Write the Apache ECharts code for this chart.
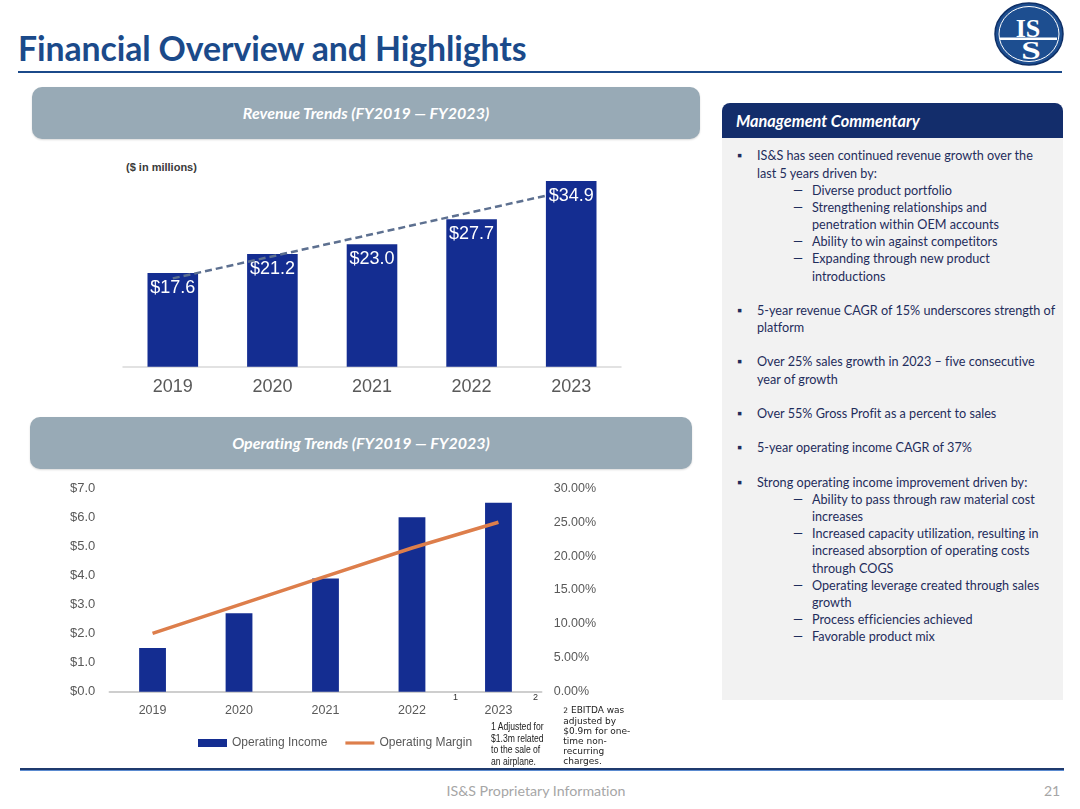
<!DOCTYPE html>
<html>
<head>
<meta charset="utf-8">
<script src="https://cdn.jsdelivr.net/npm/echarts@6/dist/echarts.min.js"></script>
<style>
  body { margin: 0; width: 1080px; height: 809px; background: #fff; position: relative; overflow: hidden; font-family: Lato, "Noto Sans", sans-serif; font-variant-ligatures: none; }
  .abs { position: absolute; }
  #title { left: 18px; top: 29px; font-size: 33.8px; font-weight: 700; color: #1b4a8a; line-height: 38px; white-space: nowrap; letter-spacing: -0.1px; }
  #titleRule { left: 18px; top: 71px; width: 1044px; height: 2px; background: #1b4a8a; }
  .band { background: #98aab6; border-radius: 10px; color: #fff; font-weight: 700; font-style: italic; font-size: 16px; text-align: center; box-shadow: 0 1px 2px rgba(0,0,0,.15); }
  #band1 { left: 32px; top: 87px; width: 668px; height: 52px; line-height: 52px; }
  #band2 { left: 30px; top: 417px; width: 662px; height: 52px; line-height: 52px; }
  #unit { left: 126px; top: 160px; font: bold 11px "Liberation Sans", Arial, sans-serif; color: #3a3a3a; line-height: 14px; }
  #revChart { left: 30px; top: 145px; width: 670px; height: 265px; }
  #opChart { left: 30px; top: 470px; width: 680px; height: 300px; }
  #mgmtHead { left: 722px; top: 103px; width: 341px; height: 35px; background: #132d6b; border-radius: 8px 8px 0 0; color: #fff; font-weight: 700; font-style: italic; font-size: 16.3px; line-height: 35px; }
  #mgmtHead span { margin-left: 14px; }
  #mgmtBody { left: 722px; top: 138px; width: 341px; height: 562px; background: #f2f2f2; }
  #notes { left: 722px; top: 147.4px; width: 341px; color: #1f2d5c; font-size: 12.65px; }
  .nl { position: relative; height: 17.18px; line-height: 17.18px; white-space: nowrap; }
  .nl.b { padding-left: 35px; }
  .nl.s { padding-left: 90px; }
  .nl.b.m::before { content: "\25AA"; position: absolute; left: 15px; font-size: 13px; }
  .nl.s.m::before { content: "\2014"; position: absolute; left: 71px; }
  .sup { font: 9px "Liberation Sans", Arial, sans-serif; color: #333; line-height: 10px; }
  #fn1 { left: 490.7px; top: 721px; font: 10px "Liberation Sans", Arial, sans-serif; line-height: 11.5px; color: #222; transform: scaleX(0.86); transform-origin: left top; white-space: nowrap; }
  #fn2 { left: 563.3px; top: 705px; font: 9px "DejaVu Sans", sans-serif; line-height: 10px; color: #222; white-space: nowrap; }
  #footRule { left: 20px; top: 768px; width: 1044px; height: 2px; background: #1f3a6e; border-bottom: 1.5px solid #5b8bd0; }
  #footText { left: 386px; top: 783px; width: 300px; text-align: center; font-size: 14.2px; color: #a6a6a6; line-height: 16px; }
  #pageNo { left: 1044px; top: 783px; font-size: 14px; color: #a6a6a6; line-height: 16px; }
  #logo { left: 990px; top: 0px; }
</style>
</head>
<body>
<div id="title" class="abs">Financial Overview and Highlights</div>
<div id="titleRule" class="abs"></div>
<svg id="logo" class="abs" width="80" height="70" viewBox="990 0 80 70">
  <ellipse cx="1029" cy="34" rx="34" ry="31" fill="#1d4e90" stroke="#0e2f66" stroke-width="1.5"/>
  <ellipse cx="1029" cy="34" rx="30" ry="27.5" fill="none" stroke="#ffffff" stroke-width="1"/>
  <text x="1028" y="37" text-anchor="middle" font-family="Liberation Serif, serif" font-weight="700" font-size="26" fill="#fff">IS</text>
  <rect x="1000" y="37.5" width="57" height="2.5" fill="#fff"/>
  <text x="1031" y="59" text-anchor="middle" font-family="Liberation Serif, serif" font-weight="700" font-size="25" fill="#fff" transform="translate(1031 0) scale(1.4 1) translate(-1031 0)">S</text>
</svg>

<div id="band1" class="abs band">Revenue Trends (FY2019 — FY2023)</div>
<div id="unit" class="abs">($ in millions)</div>
<div id="revChart" class="abs"></div>

<div id="band2" class="abs band">Operating Trends (FY2019 — FY2023)</div>
<div id="opChart" class="abs"></div>
<div class="abs sup" style="left:453px;top:692px;">1</div>
<div class="abs sup" style="left:533px;top:692px;">2</div>
<div id="fn1" class="abs">1 Adjusted for<br>$1.3m related<br>to the sale of<br>an airplane.</div>
<div id="fn2" class="abs"><span style="font-size:7.5px">2</span> EBITDA was<br>adjusted by<br>$0.9m for one-<br>time non-<br>recurring<br>charges.</div>

<div id="mgmtHead" class="abs"><span>Management Commentary</span></div>
<div id="mgmtBody" class="abs"></div>
<div id="notes" class="abs">
  <div class="nl b m">IS&amp;S has seen continued revenue growth over the</div>
  <div class="nl b">last 5 years driven by:</div>
  <div class="nl s m">Diverse product portfolio</div>
  <div class="nl s m">Strengthening relationships and</div>
  <div class="nl s">penetration within OEM accounts</div>
  <div class="nl s m">Ability to win against competitors</div>
  <div class="nl s m">Expanding through new product</div>
  <div class="nl s">introductions</div>
  <div class="nl"></div>
  <div class="nl b m">5-year revenue CAGR of 15% underscores strength of</div>
  <div class="nl b">platform</div>
  <div class="nl"></div>
  <div class="nl b m">Over 25% sales growth in 2023 – five consecutive</div>
  <div class="nl b">year of growth</div>
  <div class="nl"></div>
  <div class="nl b m">Over 55% Gross Profit as a percent to sales</div>
  <div class="nl"></div>
  <div class="nl b m">5-year operating income CAGR of 37%</div>
  <div class="nl"></div>
  <div class="nl b m">Strong operating income improvement driven by:</div>
  <div class="nl s m">Ability to pass through raw material cost</div>
  <div class="nl s">increases</div>
  <div class="nl s m">Increased capacity utilization, resulting in</div>
  <div class="nl s">increased absorption of operating costs</div>
  <div class="nl s">through COGS</div>
  <div class="nl s m">Operating leverage created through sales</div>
  <div class="nl s">growth</div>
  <div class="nl s m">Process efficiencies achieved</div>
  <div class="nl s m">Favorable product mix</div>
</div>

<div id="footRule" class="abs"></div>
<div id="footText" class="abs">IS&amp;S Proprietary Information</div>
<div id="pageNo" class="abs">21</div>

<script>
// data
const years = ["2019", "2020", "2021", "2022", "2023"];
const revenue = [17.6, 21.2, 23.0, 27.7, 34.9];
// dashed trend line, start and end (x in category index units)
const trendX = [0, 3.76];
const trendY = [16.6, 32.2];

const opIncome = [1.5, 2.7, 3.9, 6.0, 6.5];
const opMargin = [8.6, 12.8, 17.0, 21.2, 25.0];
const incomeTicks = ["$0.0", "$1.0", "$2.0", "$3.0", "$4.0", "$5.0", "$6.0", "$7.0"];
const marginTicks = ["0.00%", "5.00%", "10.00%", "15.00%", "20.00%", "25.00%", "30.00%"];

const barBlue = "#142d91";
const marginOrange = "#dd7e4b";
const axisFont = "Liberation Sans, Arial, sans-serif";

// revenue chart
const rev = echarts.init(document.getElementById("revChart"));
rev.setOption({
  animation: false,
  grid: { left: 93, top: 8.9, width: 498, height: 212.8 },
  xAxis: [
    {
      type: "category",
      data: years,
      axisLine: { lineStyle: { color: "#d9d9d9", width: 1.5 } },
      axisTick: { show: false },
      axisLabel: { fontSize: 18, color: "#595959", margin: 11, fontFamily: axisFont },
    },
    { type: "value", min: -0.5, max: 4.5, show: false },
  ],
  yAxis: { type: "value", min: 0, max: 40, show: false },
  series: [
    {
      type: "bar",
      data: revenue,
      barWidth: "50.8%",
      itemStyle: { color: barBlue },
      label: {
        show: true,
        position: "insideTop",
        distance: 6,
        color: "#fff",
        fontSize: 18,
        fontFamily: axisFont,
        formatter: (p) => "$" + p.value.toFixed(1),
      },
    },
    {
      type: "line",
      xAxisIndex: 1,
      data: trendX.map((x, i) => [x, trendY[i]]),
      symbol: "none",
      z: 5,
      lineStyle: { color: "#5d7090", width: 2.5, type: [7, 4] },
    },
  ],
});

// operating chart
const op = echarts.init(document.getElementById("opChart"));
op.setOption({
  animation: false,
  grid: { left: 79.3, top: 18.3, width: 432.4, height: 203.4 },
  legend: {
    left: 163,
    top: 262,
    itemWidth: 29,
    itemHeight: 8,
    itemGap: 18,
    textStyle: { fontSize: 12, color: "#595959", fontFamily: axisFont },
    data: [
      { name: "Operating Income", icon: "rect" },
      { name: "Operating Margin", icon: "path://M0,0h31v3.4h-31z", itemStyle: { color: marginOrange } },
    ],
  },
  xAxis: {
    type: "category",
    data: years,
    axisLine: { lineStyle: { color: "#bfbfbf", width: 1.5 } },
    axisTick: { show: false },
    axisLabel: { fontSize: 12.5, color: "#595959", margin: 12, fontFamily: axisFont },
  },
  yAxis: [
    {
      type: "value",
      min: 0,
      max: 7,
      interval: 1,
      splitLine: { show: false },
      axisLine: { show: false },
      axisTick: { show: false },
      axisLabel: {
        fontSize: 13,
        color: "#595959",
        margin: 14,
        fontFamily: axisFont,
        formatter: (v) => incomeTicks[Math.round(v)],
      },
    },
    {
      type: "value",
      min: 0,
      max: 30,
      interval: 5,
      splitLine: { show: false },
      axisLine: { show: false },
      axisTick: { show: false },
      axisLabel: {
        fontSize: 12.5,
        color: "#595959",
        margin: 12,
        fontFamily: axisFont,
        formatter: (v) => marginTicks[Math.round(v / 5)],
      },
    },
  ],
  series: [
    {
      name: "Operating Income",
      type: "bar",
      data: opIncome,
      barWidth: "31%",
      itemStyle: { color: barBlue },
    },
    {
      name: "Operating Margin",
      type: "line",
      yAxisIndex: 1,
      data: opMargin,
      symbol: "none",
      lineStyle: { color: marginOrange, width: 3.5 },
      itemStyle: { color: marginOrange },
    },
  ],
});
</script>
</body>
</html>
